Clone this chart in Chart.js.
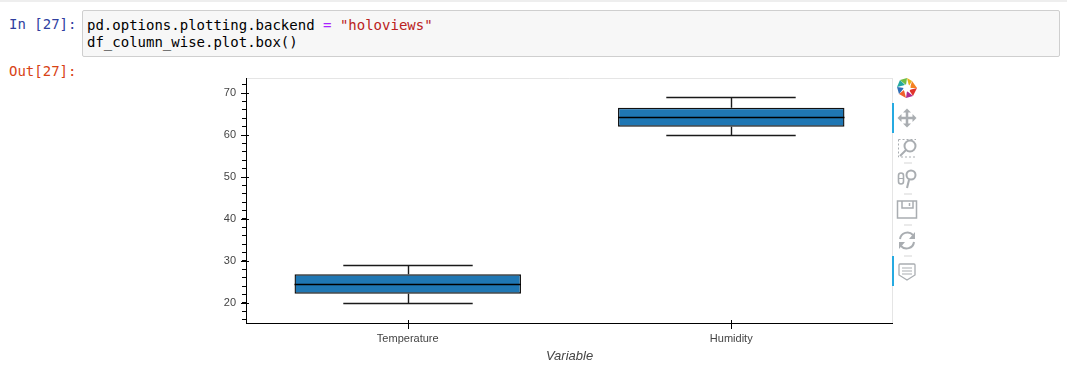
<!DOCTYPE html>
<html lang="en">
<head>
<meta charset="UTF-8">
<title>df_column_wise.plot.box()</title>
<script src="https://cdn.jsdelivr.net/npm/chart.js"></script>
<style>
  html, body { margin: 0; padding: 0; background: #fff; overflow: hidden; }
  body { width: 1067px; height: 374px; position: relative; }
  #topbar { position: absolute; left: 0; top: 0; width: 1067px; height: 2px; background: #eeeeee; }
  .prompt { position: absolute; font: 14px/17px "DejaVu Sans Mono", monospace; white-space: pre; }
  #code { position: absolute; left: 82px; top: 10px; width: 976px; height: 45px; background: #f7f7f7;
          border: 1px solid #cfcfcf; border-radius: 2px; }
  #code pre { margin: 0; position: absolute; left: 4px; top: 6px; font: 14px/17px "DejaVu Sans Mono", monospace; color: #000; }
  .op { color: #aa22ff; } .str { color: #ba2121; }
  #wrap { position: absolute; left: 200px; top: 78px; width: 693px; height: 290px; }
  #toolbar { position: absolute; left: 892px; top: 78px; }
</style>
</head>
<body>
<div id="topbar"></div>
<div class="prompt" style="left:9px;top:16px;color:#303f9f">In [27]:</div>
<div id="code"><pre>pd.options.plotting.backend <span class="op">=</span> <span class="str">"holoviews"</span>
df_column_wise.plot.box()</pre></div>
<div class="prompt" style="left:9px;top:63px;color:#d84315">Out[27]:</div>

<div id="wrap"><canvas id="chart0" width="693" height="290"></canvas></div>

<!-- bokeh toolbar -->
<svg id="toolbar" width="40" height="245" viewBox="0 0 40 245">
  <line x1="0.5" y1="0" x2="0.5" y2="245" stroke="#e5e5e5"/>
  <rect x="0" y="25" width="2" height="30" fill="#26aae1"/>
  <rect x="0" y="178" width="2" height="30" fill="#26aae1"/>
  <g transform="translate(15,10)">
    <path d="M0 -10 L5 -7 L2 -2 Z" fill="#e5b31a"/>
    <path d="M5 -7 L10 0 L3 0 Z" fill="#f58220"/>
    <path d="M10 0 L6 8 L2 2 Z" fill="#e0342c"/>
    <path d="M6 8 L-1 10 L0 3 Z" fill="#b02a8e"/>
    <path d="M-1 10 L-8 6 L-3 2 Z" fill="#f0602c"/>
    <path d="M-8 6 L-10 -1 L-3 0 Z" fill="#2f6fb7"/>
    <path d="M-10 -1 L-7 -8 L-2 -3 Z" fill="#23a9a0"/>
    <path d="M-7 -8 L0 -10 L-1 -3 Z" fill="#6fbe44"/>
    <circle r="3.6" fill="#fff"/>
  </g>
  <g fill="none" stroke="#a9adb1" stroke-width="2">
    <path d="M15 33 V47 M8 40 H22" stroke-width="2.5"/>
    <path d="M15 30.5 l-4 4 h8 z M15 49.5 l-4 -4 h8 z M5.5 40 l4 -4 v8 z M24.5 40 l-4 -4 v8 z" fill="#a9adb1" stroke="none"/>
    <path d="M6.5 61.5 H24 M6.5 61.5 V79 H24" stroke-width="1" stroke-dasharray="2 2"/>
    <circle cx="18" cy="68" r="5.5"/>
    <path d="M14 72 L8 78"/>
    <line x1="12" y1="85" x2="20" y2="85" stroke="#d5d5d5" stroke-width="1"/>
    <rect x="6.5" y="95" width="5" height="11" rx="2.5" stroke-width="1.6"/>
    <path d="M6.5 100.5 H11.5" stroke-width="1"/>
    <circle cx="19" cy="97" r="4.5"/>
    <path d="M17 102 L15 110"/>
    <line x1="12" y1="116" x2="20" y2="116" stroke="#d5d5d5" stroke-width="1"/>
    <path d="M5.5 123 H24.5 V140 H5.5 Z M10 123 V130 H21 V123 M17.5 125 V128" stroke-width="1.5"/>
    <line x1="12" y1="147" x2="20" y2="147" stroke="#d5d5d5" stroke-width="1"/>
    <path d="M8 161 A7.5 7.5 0 0 1 21 157 M22 164 A7.5 7.5 0 0 1 9 168"/>
    <path d="M23 154 V161 H17 Z M7 171 V164 H13 Z" fill="#a9adb1" stroke="none"/>
    <line x1="12" y1="178" x2="20" y2="178" stroke="#d5d5d5" stroke-width="1"/>
    <path d="M8 186 H22 Q23 186 23 187 V197 L15 202 L7 197 V187 Q7 186 8 186 Z" stroke-width="1.3"/>
    <path d="M10 190 H20 M10 193 H20 M10 196 H20" stroke-width="1"/>
  </g>
</svg>

<script>
  /* Values. */
  const categories = ["Temperature", "Humidity"]
  const lowerWhisker = [20, 60]
  const lowerQuartile = [22.2, 62]
  const medians = [24.5, 64.4]
  const upperQuartile = [26.8, 66.5]
  const upperWhisker = [29, 69]
  const axisTitle = "Variable"
  const yMin = 15.2
  const yMax = 73.6

  /* Whisker share of the category band. */
  const capShare = 0.4

  /* Whiskers go under the boxes, medians and axis tick stubs on top. */
  const boxParts = {
    id: "boxParts",
    beforeDatasetsDraw(chart) {
      const { ctx, scales: { x, y } } = chart
      const capHalf = (x.width / categories.length) * capShare / 2
      ctx.save()
      ctx.strokeStyle = "#1a1a1a"
      ctx.lineWidth = 1.4
      categories.forEach((name, i) => {
        const cx = Math.round(x.getPixelForValue(i))
        const pairs = [[lowerWhisker[i], lowerQuartile[i]], [upperWhisker[i], upperQuartile[i]]]
        pairs.forEach(([end, start]) => {
          const yEnd = Math.round(y.getPixelForValue(end)) + 0.5
          ctx.beginPath()
          ctx.moveTo(cx + 0.5, yEnd)
          ctx.lineTo(cx + 0.5, y.getPixelForValue(start))
          ctx.moveTo(cx - capHalf, yEnd)
          ctx.lineTo(cx + capHalf, yEnd)
          ctx.stroke()
        })
      })
      ctx.restore()
    },
    afterDatasetsDraw(chart) {
      const { ctx, scales: { x, y } } = chart
      const boxes = chart.getDatasetMeta(0).data
      ctx.save()
      ctx.strokeStyle = "#000"
      ctx.lineWidth = 1.4
      medians.forEach((value, i) => {
        const py = Math.round(y.getPixelForValue(value)) + 0.5
        ctx.beginPath()
        ctx.moveTo(boxes[i].x - boxes[i].width / 2, py)
        ctx.lineTo(boxes[i].x + boxes[i].width / 2, py)
        ctx.stroke()
      })
      ctx.lineWidth = 1
      /* Major ticks cross into the plot a little. */
      y.ticks.filter(t => t.value % 10 === 0).forEach(t => {
        const py = Math.round(y.getPixelForValue(t.value)) + 0.5
        ctx.beginPath()
        ctx.moveTo(x.left - 5, py)
        ctx.lineTo(x.left + 3, py)
        ctx.stroke()
      })
      categories.forEach((name, i) => {
        const px = Math.round(x.getPixelForValue(i)) + 0.5
        ctx.beginPath()
        ctx.moveTo(px, y.bottom - 3)
        ctx.lineTo(px, y.bottom + 6)
        ctx.stroke()
      })
      /* Light frame on top, black axes left and bottom. */
      ctx.strokeStyle = "#e5e5e5"
      ctx.beginPath()
      ctx.moveTo(x.left + 1, y.top + 0.5)
      ctx.lineTo(x.right - 0.5, y.top + 0.5)
      ctx.stroke()
      ctx.restore()
    }
  }

  const ctx0 = document.getElementById("chart0").getContext("2d")
  const myChart0 = new Chart(ctx0, {
    type: "bar",
    data: {
      labels: categories,
      datasets: [{
        data: categories.map((c, i) => [lowerQuartile[i], upperQuartile[i]]),
        backgroundColor: "#1f77b4",
        borderColor: "#111",
        borderWidth: 1.4,
        borderSkipped: false,
        barPercentage: 0.7,
        categoryPercentage: 1
      }]
    },
    plugins: [boxParts],
    options: {
      responsive: false,
      animation: false,
      layout: { padding: 0 },
      plugins: { legend: { display: false }, title: { display: false }, tooltip: { enabled: false } },
      scales: {
        x: {
          afterFit(scale) {
            scale.height = 45
            scale.paddingLeft = 0
            scale.paddingRight = 0
          },
          grid: { display: false },
          border: { color: "#000", width: 1 },
          ticks: { color: "#444", font: { family: "Liberation Sans", size: 11 }, padding: 1, maxRotation: 0 },
          title: {
            display: true, text: axisTitle, color: "#444", padding: { top: 3, bottom: 4 },
            font: { family: "Liberation Sans", size: 13, style: "italic", weight: "normal" }
          }
        },
        y: {
          min: yMin,
          max: yMax,
          afterFit(scale) {
            scale.width = 46
            scale.paddingTop = 0
            scale.paddingBottom = 0
          },
          border: { color: "#000", width: 1 },
          grid: { drawOnChartArea: false, drawTicks: true, tickLength: 4, tickColor: "#000" },
          ticks: {
            stepSize: 2,
            includeBounds: false,
            autoSkip: false,
            padding: 6,
            color: "#444",
            font: { family: "Liberation Sans", size: 11 },
            callback: v => (v % 10 === 0 ? v : "")
          }
        }
      }
    }
  })
</script>
</body>
</html>
